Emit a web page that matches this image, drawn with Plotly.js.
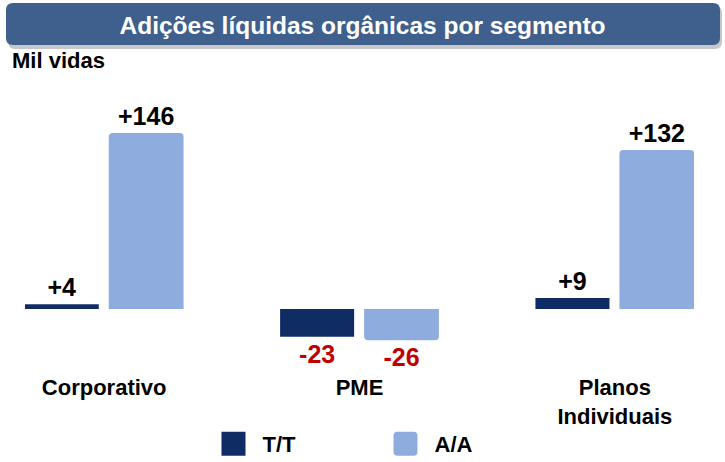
<!DOCTYPE html>
<html>
<head>
<meta charset="utf-8">
<script src="https://cdn.plot.ly/plotly-3.0.1.min.js"></script>
<style>html,body{margin:0;padding:0;background:#fff;}#chart{width:725px;height:462px;}</style>
</head>
<body>
<div id="chart"></div>
<script>
// ---- data ----
const categories = ["Corporativo", "PME", "Planos Individuais"];
const seriesNames = ["T/T", "A/A"];
const valuesTT = [4, -23, 9];
const valuesAA = [146, -26, 132];
const chartTitle = "Adições líquidas orgânicas por segmento";
const unitLabel = "Mil vidas";

// ---- styling ----
const FONT = "Liberation Sans, Arial, Helvetica, sans-serif";
const DARK = "#102C64";
const LIGHT = "#8FACDE";
const BAR_TITLE = "#3F5F8D";
const RED = "#C00000";

const W = 725, H = 462;
const M = {l: 25, r: 31, t: 100, b: 90};
const PW = W - M.l - M.r, PH = H - M.t - M.b;
const px = x => (x - M.l) / PW;
const py = y => (H - M.b - y) / PH;

function roundRect(x0, y0, x1, y1, r) {
  const P = (x, y) => px(x) + "," + py(y);
  return "M" + P(x0 + r, y0) + " L" + P(x1 - r, y0) + " Q" + P(x1, y0) + " " + P(x1, y0 + r) +
    " L" + P(x1, y1 - r) + " Q" + P(x1, y1) + " " + P(x1 - r, y1) +
    " L" + P(x0 + r, y1) + " Q" + P(x0, y1) + " " + P(x0, y1 - r) +
    " L" + P(x0, y0 + r) + " Q" + P(x0, y0) + " " + P(x0 + r, y0) + " Z";
}

const labelColors = vals => vals.map(v => v < 0 ? RED : "#000000");
const textFont = vals => ({family: FONT, size: 25, weight: "bold", color: labelColors(vals)});

const traces = [
  {
    type: "bar", name: seriesNames[0], x: categories, y: valuesTT,
    offset: -0.311, width: 0.29,
    marker: {color: DARK, line: {width: 0}},
    texttemplate: "%{y:+d}", textposition: "outside", textfont: textFont(valuesTT),
    cliponaxis: false, constraintext: "none", hoverinfo: "skip"
  },
  {
    type: "bar", name: seriesNames[1], x: categories, y: valuesAA,
    offset: 0.018, width: 0.293,
    marker: {color: LIGHT, cornerradius: 4, line: {width: 0}},
    texttemplate: "%{y:+d}", textposition: "outside", textfont: textFont(valuesAA),
    cliponaxis: false, constraintext: "none", hoverinfo: "skip"
  }
];

const layout = {
  width: W, height: H,
  margin: M,
  paper_bgcolor: "#ffffff", plot_bgcolor: "rgba(0,0,0,0)",
  font: {family: FONT, color: "#000"},
  title: {
    text: chartTitle,
    font: {family: FONT, size: 24.5, weight: "bold", color: "#ffffff"},
    x: 0.5, xref: "container", xanchor: "center",
    y: 1 - 25 / H, yref: "container", yanchor: "middle"
  },
  xaxis: {
    type: "category",
    range: [-0.31, 2.31],
    tickmode: "array", tickvals: categories,
    ticktext: categories.map(c => c.replace(" ", "<br>")),
    tickfont: {family: FONT, size: 22, weight: "bold", color: "#000"},
    showgrid: false, zeroline: false, showline: false, ticks: "",
    fixedrange: true
  },
  yaxis: {
    range: [-52.3, 173.4], visible: false, showgrid: false, zeroline: false, fixedrange: true
  },
  showlegend: true,
  legend: {
    orientation: "h",
    x: px(204.5), xanchor: "left",
    y: 1 - 444 / H, yref: "container", yanchor: "middle",
    font: {family: FONT, size: 22, weight: "bold", color: "#000"},
    itemwidth: 48, entrywidth: 109, entrywidthmode: "pixels",
    bgcolor: "rgba(0,0,0,0)", traceorder: "normal"
  },
  shapes: [
    {type: "path", xref: "paper", yref: "paper", layer: "below",
     path: roundRect(8, 6, 722, 49, 7), fillcolor: "rgba(0,0,0,0.22)", line: {width: 0}},
    {type: "path", xref: "paper", yref: "paper", layer: "below",
     path: roundRect(6, 3, 720, 45, 7), fillcolor: BAR_TITLE, line: {width: 0}}
  ],
  annotations: [
    {text: unitLabel, xref: "paper", yref: "paper", x: px(10), y: py(60),
     xanchor: "left", yanchor: "middle", showarrow: false,
     font: {family: FONT, size: 22, weight: "bold", color: "#000"}}
  ],
  hovermode: false
};

Plotly.newPlot("chart", traces, layout, {displayModeBar: false, staticPlot: true}).then(gd => {
  // enlarge the legend swatches to match the reference (24px squares)
  const items = gd.querySelectorAll("g.legend g.traces");
  items.forEach((item, i) => {
    item.querySelectorAll("g.legendpoints path").forEach(p => {
      const d = p.getAttribute("d") || "";
      if (!d) return;
      p.setAttribute("d", i === 0
        ? "M12,12H-12V-12H12Z"
        : "M-8,-12H8Q12,-12 12,-8V8Q12,12 8,12H-8Q-12,12 -12,8V-8Q-12,-12 -8,-12Z");
      p.style.strokeWidth = "0px";
    });
  });
});
</script>
</body>
</html>
